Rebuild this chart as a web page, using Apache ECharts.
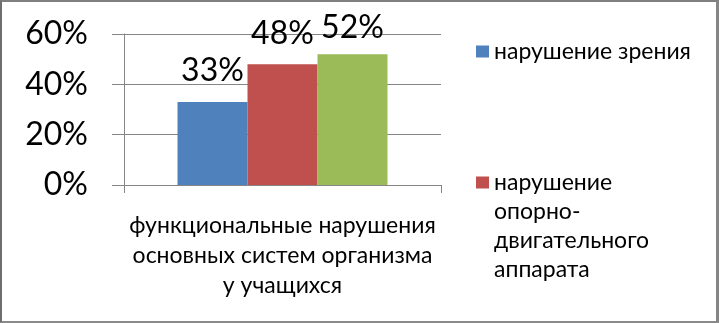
<!DOCTYPE html>
<html>
<head>
<meta charset="utf-8">
<script src="https://cdn.jsdelivr.net/npm/echarts@6/dist/echarts.min.js"></script>
<style>
  html, body { margin: 0; padding: 0; background: #fff; }
  #chart { position: absolute; left: 0; top: 0; width: 719px; height: 323px; }
  #frame {
    position: absolute; left: 0; top: 0; width: 719px; height: 323px;
    box-sizing: border-box; pointer-events: none;
    border-style: solid; border-color: #7f7f7f #858585 #8a8a8a #6e6e6e;
    border-width: 2px 3px 2px 2px;
  }
</style>
</head>
<body>
<div id="chart"></div>
<div id="frame"></div>
<script>
const categories = ['функциональные нарушения основных систем организма у учащихся'];
const seriesNames = ['нарушение зрения', 'нарушение опорно-двигательного аппарата', 'Ряд 3'];
const visionValues = [33];
const postureValues = [48];
const thirdValues = [52];
const yTicks = [0, 20, 40, 60];

const colors = ['#4F81BD', '#C0504D', '#9BBB59'];
const font = 'Lato, "Open Sans", "Noto Sans", sans-serif';
const gridColor = '#868686';

var myChart = echarts.init(document.getElementById('chart'));

// подписи над столбцами
function barLabel(distance) {
  return {
    show: true,
    position: 'top',
    distance: distance,
    color: '#000',
    fontSize: 32,
    fontFamily: font,
    formatter: '{c}%'
  };
}

const values = [visionValues, postureValues, thirdValues];
const series = seriesNames.map((name, i) => ({
  name: name,
  type: 'bar',
  barWidth: 70,
  barGap: '0%',
  itemStyle: { color: colors[i] },
  label: barLabel(i === 2 ? 10 : 15),
  data: values[i]
}));

const legendText = { fontSize: 23, fontFamily: font, color: '#000', lineHeight: 29 };

var option = {
  animation: false,
  grid: { left: 124, right: 278, top: 34, bottom: 138 },
  legend: [
    {
      data: [seriesNames[0]],
      orient: 'vertical',
      left: 476,
      top: 37,
      padding: 0,
      itemWidth: 13,
      itemHeight: 12,
      icon: 'rect',
      selectedMode: false,
      textStyle: legendText
    },
    {
      data: [seriesNames[1]],
      orient: 'vertical',
      left: 476,
      top: 81,
      padding: 0,
      itemWidth: 13,
      itemHeight: 12,
      icon: 'rect',
      selectedMode: false,
      // пустые строки сверху, чтобы маркер стоял напротив первой строки
      formatter: () => '\n\n\nнарушение\nопорно-\nдвигательного\nаппарата',
      textStyle: legendText
    }
  ],
  xAxis: {
    type: 'category',
    data: categories,
    axisLine: { lineStyle: { color: gridColor } },
    axisTick: { show: true, length: 8, lineStyle: { color: gridColor } },
    axisLabel: {
      interval: 0,
      margin: 26,
      color: '#000',
      fontSize: 23,
      lineHeight: 30,
      fontFamily: font,
      formatter: () => 'функциональные нарушения\nосновных систем организма\nу учащихся'
    }
  },
  yAxis: {
    type: 'value',
    min: yTicks[0],
    max: yTicks[yTicks.length - 1],
    interval: yTicks[1] - yTicks[0],
    axisLine: { show: true, lineStyle: { color: gridColor } },
    axisTick: { show: true, length: 12, lineStyle: { color: gridColor } },
    splitLine: { show: true, lineStyle: { color: gridColor } },
    axisLabel: {
      margin: 36,
      color: '#000',
      fontSize: 32,
      fontFamily: font,
      formatter: '{value}%'
    }
  },
  series
};

option && myChart.setOption(option);
</script>
</body>
</html>
